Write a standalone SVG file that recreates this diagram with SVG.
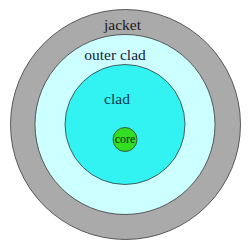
<svg xmlns="http://www.w3.org/2000/svg" width="250" height="250" viewBox="0 0 250 250">
<style>
.ring{stroke:#3a3a3a;stroke-width:0.8}
.lbl{font-family:"Liberation Serif","DejaVu Serif",serif;text-anchor:middle}
</style>
<rect width="250" height="250" fill="#ffffff"/>
<g id="jacket">
<circle class="ring" cx="125.5" cy="124.5" r="115" fill="#aaaaaa"/>
<text class="lbl" x="122.5" y="30" font-size="15.5" fill="#1a1a22">jacket</text>
</g>
<g id="outer-clad">
<circle class="ring" cx="125" cy="124.5" r="90" fill="#ccffff"/>
<text class="lbl" x="115" y="60" font-size="15.5" fill="#1a2040">outer clad</text>
</g>
<g id="clad">
<circle class="ring" cx="125" cy="124.5" r="60" fill="#33f2f2"/>
<text class="lbl" x="117" y="104" font-size="15.5" fill="#0a3a50">clad</text>
</g>
<g id="core">
<circle class="ring" cx="125" cy="139.5" r="12" fill="#33dd22"/>
<text class="lbl" x="125" y="142.5" font-size="12" fill="#103010">core</text>
</g>
<g id="connectors"/>
</svg>
